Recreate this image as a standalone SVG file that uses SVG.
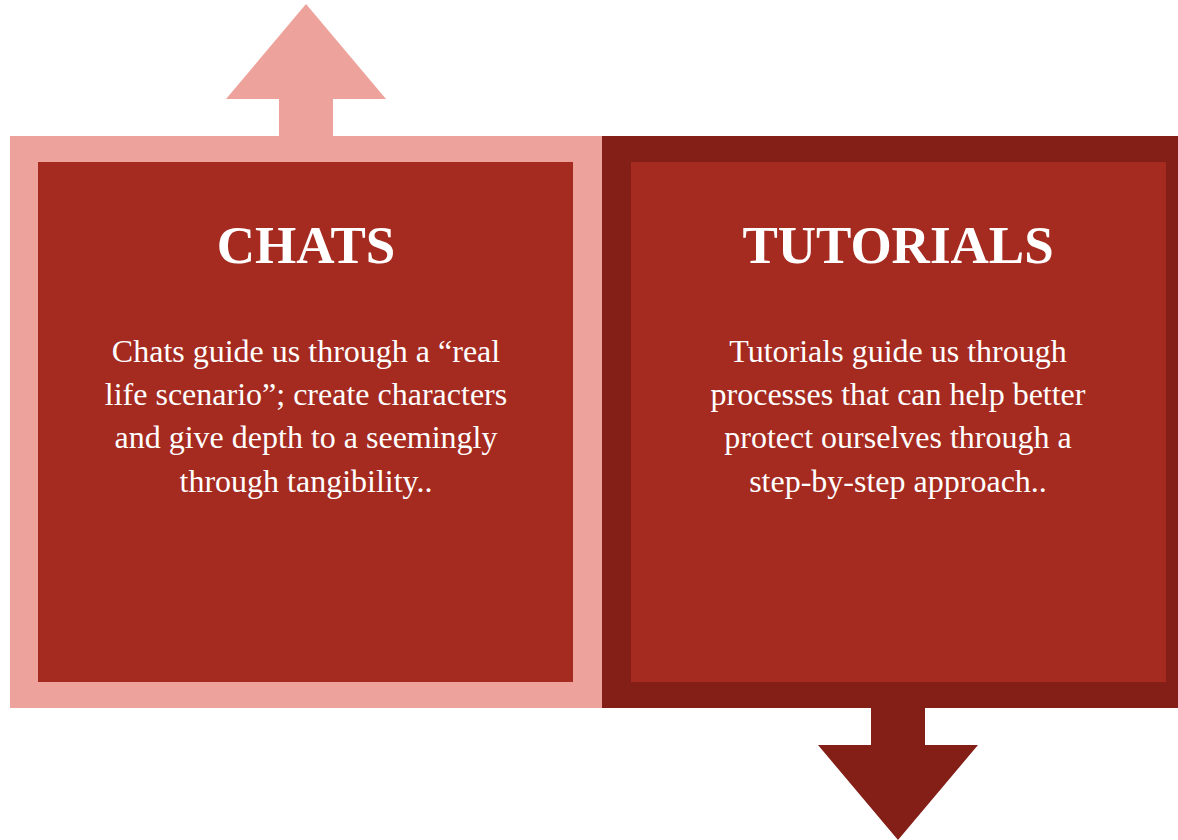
<svg xmlns="http://www.w3.org/2000/svg" width="1178" height="840" viewBox="0 0 1178 840">
<style>
.pink{fill:#EDA39C}
.dark{fill:#841F18}
.red{fill:#A52A1F}
.title{font-family:"Liberation Serif","Times New Roman",serif;font-weight:bold;font-size:53px;fill:#FFFFFF;text-anchor:middle}
.body{font-family:"Liberation Serif","Times New Roman",serif;font-size:32px;fill:#FFFFFF;text-anchor:middle}
</style>
<rect width="1178" height="840" fill="#FFFFFF"/>
<g id="connectors">
<polygon class="pink" points="306,4 386,99 333,99 333,137 279,137 279,99 226,99"/>
<polygon class="dark" points="871,707 925,707 925,745 978,745 898,840 818,745 871,745"/>
</g>
<g id="chats">
<rect class="pink" x="10" y="136" width="592" height="572"/>
<rect class="red" x="38" y="162" width="535" height="520"/>
<text class="title" x="306" y="263">CHATS</text>
<text class="body" x="306" y="362">Chats guide us through a “real</text>
<text class="body" x="306" y="405">life scenario”; create characters</text>
<text class="body" x="306" y="448">and give depth to a seemingly</text>
<text class="body" x="306" y="492">through tangibility..</text>
</g>
<g id="tutorials">
<rect class="dark" x="602" y="136" width="576" height="572"/>
<rect class="red" x="631" y="162" width="535" height="520"/>
<text class="title" x="898" y="263">TUTORIALS</text>
<text class="body" x="898" y="362">Tutorials guide us through</text>
<text class="body" x="898" y="405">processes that can help better</text>
<text class="body" x="898" y="448">protect ourselves through a</text>
<text class="body" x="898" y="492">step-by-step approach..</text>
</g>
</svg>
